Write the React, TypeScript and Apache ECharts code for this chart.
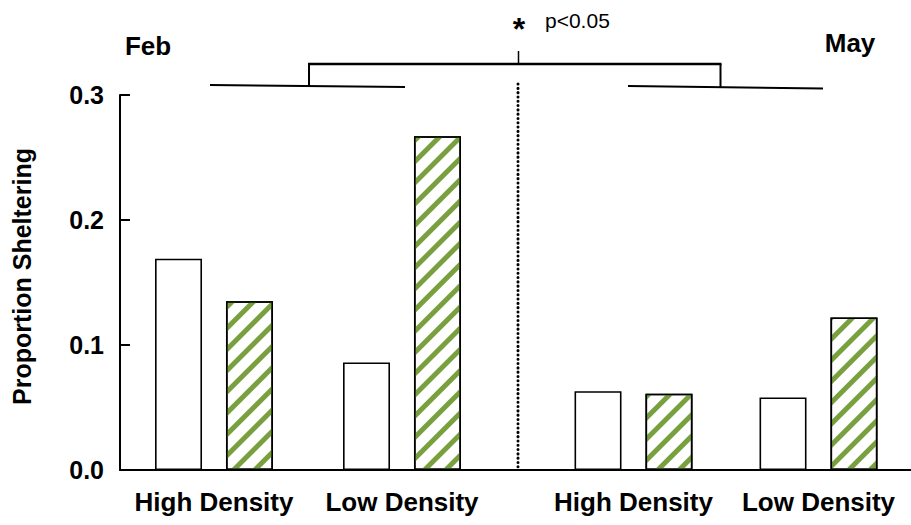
import React, { useEffect, useRef } from "react";
import * as echarts from "echarts";

const FONT = "'Liberation Sans', Arial, Helvetica, sans-serif";

// Data
const groupLabels = ["High Density", "Low Density"];
const febOpen = [0.169, 0.086];
const febHatched = [0.135, 0.267];
const mayOpen = [0.063, 0.058];
const mayHatched = [0.061, 0.122];
const yMin = 0;
const yMax = 0.3;
const yStep = 0.1;
const yTitle = "Proportion Sheltering";
const periodLabels = ["Feb", "May"];
const sigLabel = "p<0.05";

const GREEN = "#79a03e";

const openStyle = { color: "#ffffff", borderColor: "#000000", borderWidth: 1.6 };
const hatchStyle = {
  color: "#ffffff",
  borderColor: "#000000",
  borderWidth: 1.6,
  decal: {
    symbol: "rect",
    symbolSize: 1,
    color: GREEN,
    dashArrayX: [1, 0],
    dashArrayY: [5, 10],
    rotation: -Math.PI / 4,
  },
};

export default function App() {
  const ref = useRef<HTMLDivElement>(null);
  useEffect(() => {
    if (!ref.current) return;
    const chart = echarts.init(ref.current, null, { renderer: "svg" });
    const xAxisBase = {
      type: "category",
      data: groupLabels,
      axisLine: { show: true, lineStyle: { color: "#000", width: 2 } },
      axisTick: { show: false },
      axisLabel: {
        color: "#000",
        fontWeight: "bold",
        fontSize: 26,
        fontFamily: FONT,
        margin: 19,
        interval: 0,
      },
    };
    const line = (x1: number, y1: number, x2: number, y2: number, w = 2, extra: any = {}) => ({
      type: "line",
      shape: { x1, y1, x2, y2 },
      style: { stroke: "#000", lineWidth: w, ...extra },
      silent: true,
    });
    const barCommon = { type: "bar", barWidth: 47, barGap: "51%" };
    const option: any = {
      animation: false,
      backgroundColor: "#ffffff",
      textStyle: { fontFamily: FONT },
      grid: [
        { left: 120, top: 95, width: 376, height: 375 },
        { left: 541, top: 95, width: 372, height: 375 },
      ],
      xAxis: [
        { ...xAxisBase, gridIndex: 0 },
        { ...xAxisBase, gridIndex: 1 },
      ],
      yAxis: [
        {
          type: "value",
          gridIndex: 0,
          min: yMin,
          max: yMax,
          interval: yStep,
          name: yTitle,
          nameLocation: "middle",
          nameGap: 86,
          nameRotate: 90,
          nameTextStyle: {
            color: "#000",
            fontWeight: "bold",
            fontSize: 25,
            fontFamily: FONT,
            padding: [0, 0, 0, 12],
          },
          axisLine: { show: true, lineStyle: { color: "#000", width: 2 } },
          axisTick: { show: true, inside: true, length: 10, lineStyle: { color: "#000", width: 2 } },
          axisLabel: {
            color: "#000",
            fontWeight: "bold",
            fontSize: 25,
            fontFamily: FONT,
            margin: 16,
            formatter: (v: number) => v.toFixed(1),
          },
          splitLine: { show: false },
        },
        { type: "value", gridIndex: 1, min: yMin, max: yMax, interval: yStep, show: false },
      ],
      series: [
        { ...barCommon, xAxisIndex: 0, yAxisIndex: 0, data: febOpen, itemStyle: openStyle },
        { ...barCommon, xAxisIndex: 0, yAxisIndex: 0, data: febHatched, itemStyle: hatchStyle },
        { ...barCommon, xAxisIndex: 1, yAxisIndex: 1, data: mayOpen, itemStyle: openStyle },
        { ...barCommon, xAxisIndex: 1, yAxisIndex: 1, data: mayHatched, itemStyle: hatchStyle },
      ],
      graphic: [
        // axis line across the gap between the two panels
        line(495, 470, 542, 470, 2),
        // dotted divider
        line(518, 84, 518, 469, 3, { lineDash: [0.1, 4.2], lineCap: "round" }),
        // significance bracket
        line(210, 85, 405, 87, 2),
        line(628, 86, 823, 88.5, 2),
        line(309, 86, 309, 64, 2),
        line(720.5, 64, 720.5, 87, 2),
        line(308, 64, 721.5, 64, 2.5),
        line(518.5, 51, 518.5, 64, 1.5),
        {
          type: "text",
          x: 519,
          y: 29,
          style: { text: "*", fill: "#000", font: `bold 32px ${FONT}`, align: "center", verticalAlign: "middle" },
        },
        {
          type: "text",
          x: 545,
          y: 20,
          style: { text: sigLabel, fill: "#000", font: `21px ${FONT}`, align: "left", verticalAlign: "middle" },
        },
        {
          type: "text",
          x: 148,
          y: 46,
          style: { text: periodLabels[0], fill: "#000", font: `bold 26px ${FONT}`, align: "center", verticalAlign: "middle" },
        },
        {
          type: "text",
          x: 850,
          y: 43,
          style: { text: periodLabels[1], fill: "#000", font: `bold 26px ${FONT}`, align: "center", verticalAlign: "middle" },
        },
      ],
    };
    chart.setOption(option);
    return () => chart.dispose();
  }, []);
  return (
    <div
      ref={ref}
      style={{ position: "fixed", left: 0, top: 0, width: 911, height: 525, background: "#fff" }}
    />
  );
}
